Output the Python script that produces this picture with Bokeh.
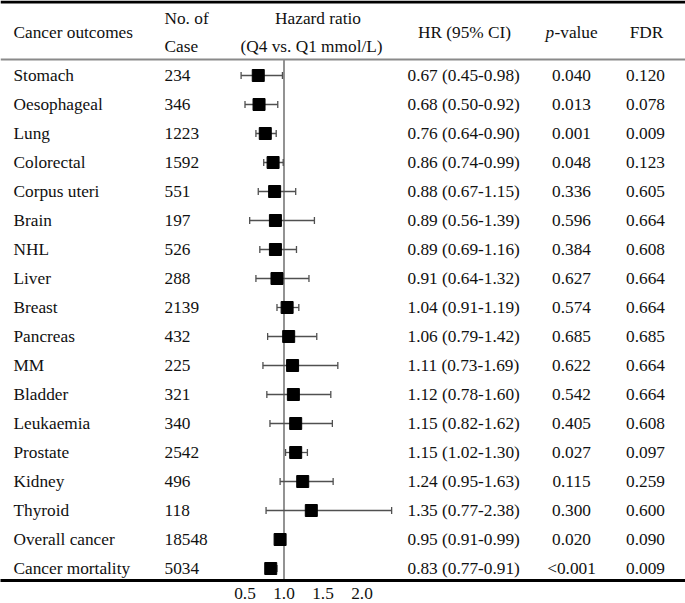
from bokeh.plotting import figure
from bokeh.models import Range1d, FixedTicker, PrintfTickFormatter, Span, ColumnDataSource
from bokeh.core.properties import value
from bokeh.embed import file_html
from bokeh.resources import INLINE

# ---------------- data ----------------
outcomes = ["Stomach", "Oesophageal", "Lung", "Colorectal", "Corpus uteri", "Brain", "NHL",
            "Liver", "Breast", "Pancreas", "MM", "Bladder", "Leukaemia", "Prostate", "Kidney",
            "Thyroid", "Overall cancer", "Cancer mortality"]
cases = [234, 346, 1223, 1592, 551, 197, 526, 288, 2139, 432, 225, 321, 340, 2542, 496, 118,
         18548, 5034]
hr = [0.67, 0.68, 0.76, 0.86, 0.88, 0.89, 0.89, 0.91, 1.04, 1.06, 1.11, 1.12, 1.15, 1.15, 1.24,
      1.35, 0.95, 0.83]
ci_low = [0.45, 0.50, 0.64, 0.74, 0.67, 0.56, 0.69, 0.64, 0.91, 0.79, 0.73, 0.78, 0.82, 1.02,
          0.95, 0.77, 0.91, 0.77]
ci_high = [0.98, 0.92, 0.90, 0.99, 1.15, 1.39, 1.16, 1.32, 1.19, 1.42, 1.69, 1.60, 1.62, 1.30,
           1.63, 2.38, 0.99, 0.91]
p_values = ["0.040", "0.013", "0.001", "0.048", "0.336", "0.596", "0.384", "0.627", "0.574",
            "0.685", "0.622", "0.542", "0.405", "0.027", "0.115", "0.300", "0.020", "<0.001"]
fdr = ["0.120", "0.078", "0.009", "0.123", "0.605", "0.664", "0.608", "0.664", "0.664", "0.685",
       "0.664", "0.664", "0.608", "0.097", "0.259", "0.600", "0.090", "0.009"]
x_ticks = [0.5, 1.0, 1.5, 2.0]

# ---------------- layout helpers ----------------
W, H_FIG = 685, 603
H = 580            # frame height in px; the axis panel sits below
ORIGIN_PX = 283.5  # pixel of HR = 1.0
PX_PER_UNIT = 78.0


def px2v(px):
    return 1.0 + (px - ORIGIN_PX) / PX_PER_UNIT


v0, v1 = px2v(0), px2v(W)

FONT = value("Liberation Serif")
FS = "17.3px"
TXT = "#111111"

p = figure(width=W, height=H_FIG, x_range=Range1d(v0, v1), y_range=Range1d(H, 0),
           output_backend="svg", toolbar_location=None, y_axis_location=None,
           min_border=0, min_border_bottom=H_FIG - H)
p.outline_line_color = None
p.xgrid.visible = False
p.ygrid.visible = False
p.background_fill_color = "white"

# x axis (its line is the bottom rule)
ax = p.xaxis[0]
ax.ticker = FixedTicker(ticks=x_ticks)
ax.formatter = PrintfTickFormatter(format="%.1f")
ax.axis_line_color = "black"
ax.axis_line_width = 3
ax.major_tick_line_color = None
ax.minor_tick_line_color = None
ax.major_tick_out = 0
ax.major_tick_in = 0
ax.major_label_standoff = 7
ax.major_label_text_font = "Liberation Serif"
ax.major_label_text_font_size = FS
ax.major_label_text_color = TXT

n = len(outcomes)
row0, step = 75.0, 29.0
ys = [row0 + step * i for i in range(n)]

# rules
p.add_layout(Span(location=1.5, dimension="width", line_color="black", line_width=3))
HEADER_Y = 59
p.add_layout(Span(location=HEADER_Y, dimension="width", line_color="#8a8a8a", line_width=2))
p.segment(x0=[1.0], y0=[HEADER_Y], x1=[1.0], y1=[H], line_color="#3a3a3a", line_width=1.1)

# header texts
def htext(px, y, s, align="left", style="normal"):
    p.text(x=[px2v(px)], y=[y], text=[s], text_font=FONT, text_font_size=FS,
           text_color=TXT, text_align=align, text_baseline="middle", text_font_style=style)

htext(13, 32, "Cancer outcomes")
htext(164, 18, "No. of")
htext(164, 46, "Case")
htext(317.5, 18, "Hazard ratio", "center")
htext(311, 46, "(Q4 vs. Q1 mmol/L)", "center")
htext(464, 32, "HR (95% CI)", "center")
htext(545, 32, "p", "left", "italic")
htext(554, 32, "-value")
htext(646, 32, "FDR", "center")

# forest plot
src = ColumnDataSource(dict(
    y=ys, hr=hr, lo=ci_low, hi=ci_high,
    cap_t=[y - 3.5 for y in ys], cap_b=[y + 3.5 for y in ys],
    name=outcomes, cases=[str(c) for c in cases],
    hrtxt=[f"{a:.2f} ({b:.2f}-{c:.2f})" for a, b, c in zip(hr, ci_low, ci_high)],
    pv=p_values, fdr=fdr,
))
WH = "#505050"
p.segment(x0="lo", y0="y", x1="hi", y1="y", source=src, line_color=WH, line_width=1.3)
p.segment(x0="lo", y0="cap_t", x1="lo", y1="cap_b", source=src, line_color=WH, line_width=1.3)
p.segment(x0="hi", y0="cap_t", x1="hi", y1="cap_b", source=src, line_color=WH, line_width=1.3)
p.scatter(x="hr", y="y", source=src, marker="square", size=12, fill_color="black",
          line_color="black")

# table columns
def col(px, field, align="left"):
    p.text(x=px2v(px), y="y", text=field, source=src, text_font=FONT, text_font_size=FS,
           text_color=TXT, text_align=align, text_baseline="middle")

col(13, "name")
col(164, "cases")
col(407, "hrtxt")
col(571, "pv", "center")
col(645, "fdr", "center")

open("out.html", "w").write(file_html(p, INLINE))
